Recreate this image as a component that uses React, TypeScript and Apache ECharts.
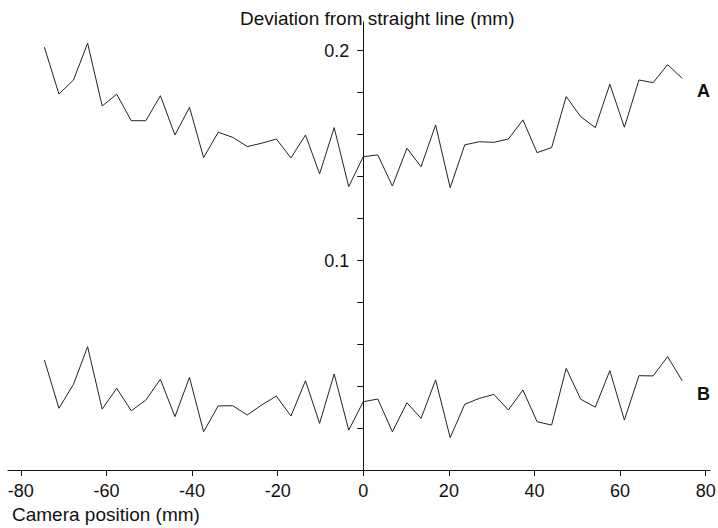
import React, { useEffect, useRef } from "react";
import * as echarts from "echarts";

const positions = [
  -74.5, -71.1, -67.7, -64.4, -61.0, -57.6, -54.2, -50.8, -47.4, -44.0, -40.6,
  -37.3, -33.9, -30.5, -27.1, -23.7, -20.3, -16.9, -13.5, -10.2, -6.8, -3.4, 0,
  3.4, 6.8, 10.2, 13.5, 16.9, 20.3, 23.7, 27.1, 30.5, 33.9, 37.3, 40.6, 44.0,
  47.4, 50.8, 54.2, 57.6, 61.0, 64.4, 67.7, 71.1, 74.5,
];

const seriesA = [
  0.2013, 0.179, 0.1857, 0.2032, 0.1733, 0.1789, 0.1663, 0.1663, 0.1782, 0.1595,
  0.1727, 0.1487, 0.1608, 0.1584, 0.154, 0.1556, 0.1576, 0.1486, 0.1595, 0.141,
  0.163, 0.1349, 0.1492,
  0.15, 0.1352, 0.1532, 0.1444, 0.1643, 0.1344, 0.1548, 0.1563, 0.156, 0.1576,
  0.1667, 0.1511, 0.1535, 0.1778, 0.1682, 0.163, 0.1837, 0.1632, 0.1857, 0.1844,
  0.193, 0.1865,
];

const seriesB = [
  0.0524, 0.0294, 0.0408, 0.0587, 0.029, 0.0389, 0.0282, 0.0333, 0.0432, 0.0254,
  0.0441, 0.0182, 0.0305, 0.0306, 0.0262, 0.031, 0.0352, 0.0257, 0.0425, 0.0222,
  0.0457, 0.019, 0.0325,
  0.0338, 0.0182, 0.032, 0.0246, 0.0429, 0.0154, 0.0313, 0.0341, 0.036, 0.0286,
  0.0381, 0.023, 0.0214, 0.0484, 0.0337, 0.0299, 0.0473, 0.0238, 0.0449, 0.0448,
  0.054, 0.0425,
];

const xTicks = [-80, -60, -40, -20, 0, 20, 40, 60, 80];
const yTicks = [0.02, 0.04, 0.06, 0.08, 0.1, 0.12, 0.14, 0.16, 0.18, 0.2];
const yLabels = ["0.1", "0.2"];

const FONT = "'Liberation Sans', Arial, Helvetica, sans-serif";

export default function App() {
  const ref = useRef<HTMLDivElement>(null);
  useEffect(() => {
    if (!ref.current) return;
    const chart = echarts.init(ref.current, undefined, { renderer: "svg" });
    const pair = (vals: number[]) => positions.map((p, i) => [p, vals[i]]);
    chart.setOption({
      animation: false,
      backgroundColor: "#ffffff",
      grid: {
        left: 8,
        right: 8,
        top: 22,
        bottom: 58,
        containLabel: false,
        outerBoundsMode: "none",
      },
      xAxis: {
        type: "value",
        min: -83,
        max: 81,
        axisLine: { show: true, onZero: false, lineStyle: { color: "#111", width: 1 } },
        axisTick: {
          show: true,
          customValues: xTicks,
          length: 6,
          lineStyle: { color: "#111" },
        },
        axisLabel: {
          customValues: xTicks,
          color: "#111",
          fontSize: 18,
          fontFamily: FONT,
          margin: 12,
        },
        splitLine: { show: false },
      },
      yAxis: {
        type: "value",
        min: 0,
        max: 0.2133,
        axisLine: { show: true, onZero: true, lineStyle: { color: "#111", width: 1 } },
        axisTick: {
          show: true,
          customValues: yTicks,
          length: 6,
          lineStyle: { color: "#111" },
        },
        axisLabel: { show: false },
        splitLine: { show: false },
      },
      series: [
        {
          name: "A",
          type: "line",
          data: pair(seriesA),
          symbol: "none",
          lineStyle: { color: "#222", width: 1 },
        },
        {
          name: "B",
          type: "line",
          data: pair(seriesB),
          symbol: "none",
          lineStyle: { color: "#222", width: 1 },
        },
      ],
    });

    const yLabelGraphics = yLabels.map((t) => {
      const p = chart.convertToPixel({ gridIndex: 0 }, [0, parseFloat(t)]) as number[];
      return {
        type: "text",
        x: p[0] - 14,
        y: p[1] + 1,
        style: {
          text: t,
          fontSize: 18,
          fontFamily: FONT,
          fill: "#111",
          textAlign: "right",
          textVerticalAlign: "middle",
        },
      };
    });

    chart.setOption({
      graphic: [
        ...yLabelGraphics,
        {
          type: "text",
          x: 240,
          y: 18,
          style: {
            text: "Deviation from straight line (mm)",
            fontSize: 19,
            fontFamily: FONT,
            fill: "#111",
            textAlign: "left",
            textVerticalAlign: "middle",
          },
        },
        {
          type: "text",
          x: 12,
          y: 514,
          style: {
            text: "Camera position (mm)",
            fontSize: 19,
            fontFamily: FONT,
            fill: "#111",
            textAlign: "left",
            textVerticalAlign: "middle",
          },
        },
        {
          type: "text",
          x: 697,
          y: 91,
          style: {
            text: "A",
            fontSize: 18,
            fontWeight: "bold",
            fontFamily: FONT,
            fill: "#111",
            textAlign: "left",
            textVerticalAlign: "middle",
          },
        },
        {
          type: "text",
          x: 697,
          y: 394,
          style: {
            text: "B",
            fontSize: 18,
            fontWeight: "bold",
            fontFamily: FONT,
            fill: "#111",
            textAlign: "left",
            textVerticalAlign: "middle",
          },
        },
      ],
    });
    return () => chart.dispose();
  }, []);
  return (
    <div
      ref={ref}
      style={{ position: "fixed", left: 0, top: 0, width: 718, height: 528 }}
    />
  );
}
